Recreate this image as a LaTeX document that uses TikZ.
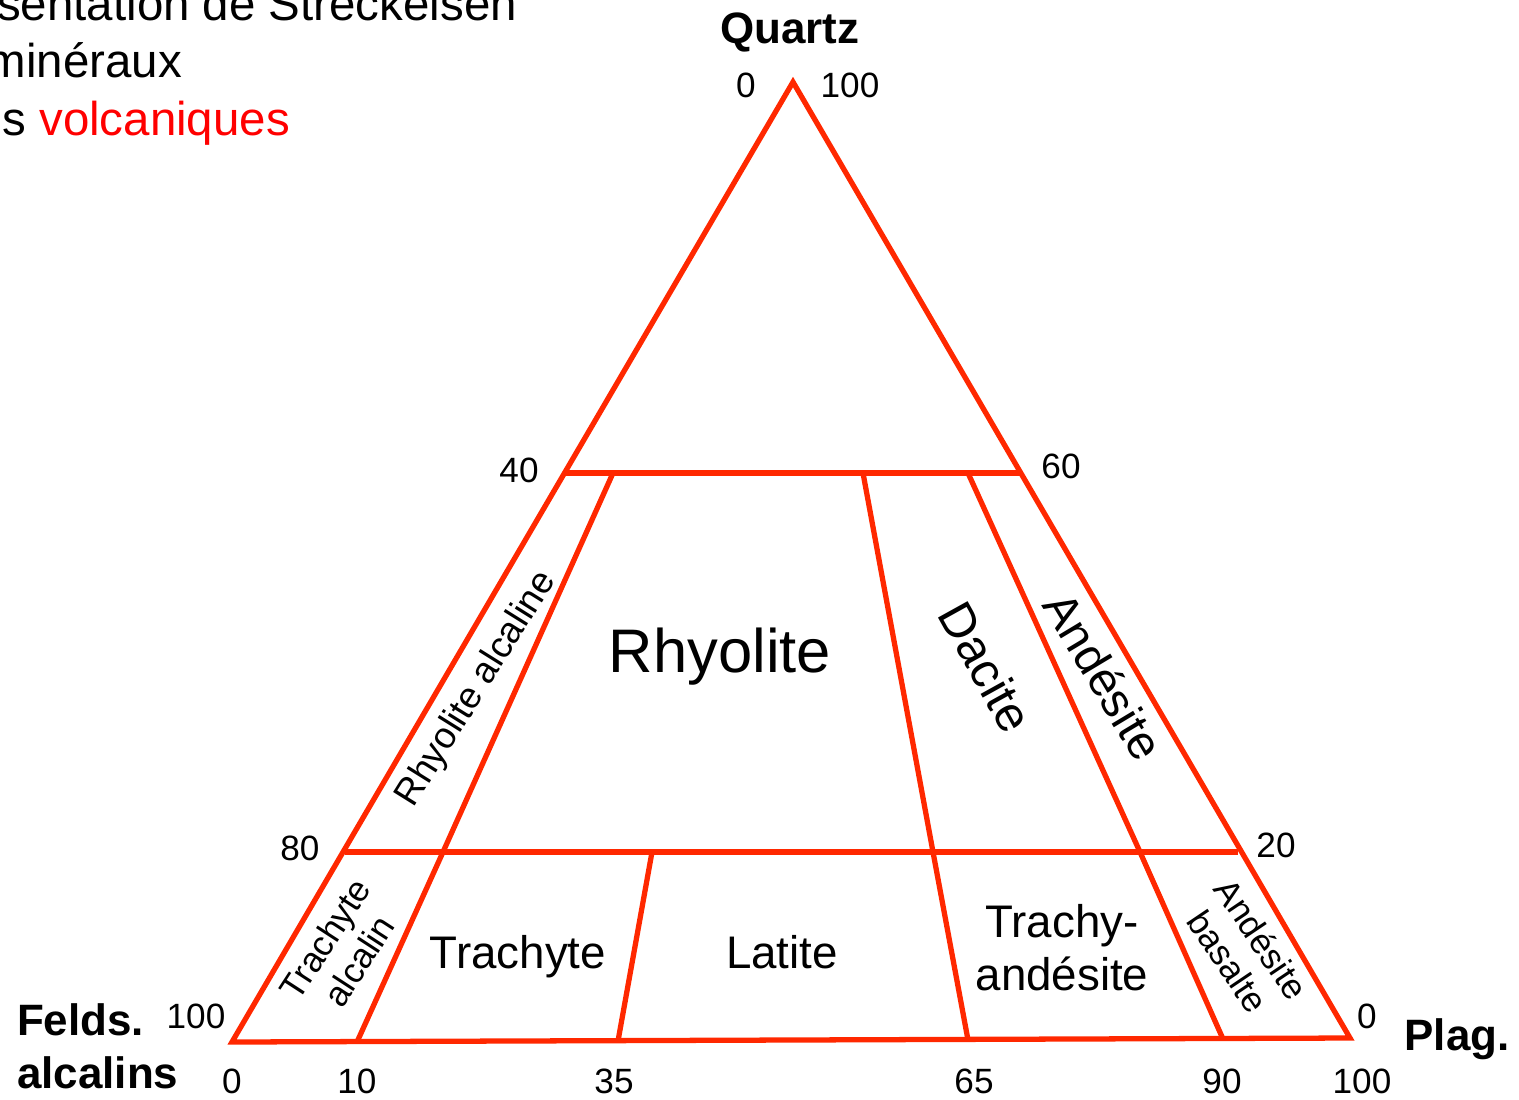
\documentclass[tikz,border=0pt]{standalone}
\usepackage{fontspec}
\setmainfont{Liberation Sans}
\definecolor{linered}{RGB}{255,40,0}
\tikzstyle{every node}+=[inner sep=0.5mm]
\tikzstyle{every path}+=[line width=3pt]
\tikzset{
	rl/.style={draw=linered,line join=miter},
	num/.style={font=\fontsize{20}{24}\selectfont,anchor=base},
	axis/.style={font=\bfseries\fontsize{25}{30}\selectfont,anchor=base},
	rock/.style={font=\fontsize{26}{30}\selectfont,align=center},
	small/.style={font=\fontsize{20}{23}\selectfont,align=center},
	title/.style={font=\fontsize{27}{33}\selectfont,anchor=base east}
}
\newcommand{\drawlines}[2][\empty]{
	\foreach \a/\b in {#2}{
		\draw[#1] (\a) -- (\b);
	}
}
\begin{document}
\begin{tikzpicture}[x=0.2mm,y=-0.2mm]
	\useasboundingbox (0,0) rectangle (1519,1099);
	\coordinate (q) at (793,82);
	\coordinate (a) at (232,1042);
	\coordinate (p) at (1350,1038);
	\coordinate (l40) at (565,473);
	\coordinate (r60) at (1020,473);
	\coordinate (l80) at (345,852);
	\coordinate (r20) at (1238,852);
	\coordinate (t1) at (613,473);
	\coordinate (t2) at (863,473);
	\coordinate (t3) at (968,473);
	\coordinate (m1) at (443,852);
	\coordinate (m2) at (652,852);
	\coordinate (m3) at (933,852);
	\coordinate (m4) at (1140,852);
	\coordinate (b10) at (357,1042);
	\coordinate (b35) at (618,1041);
	\coordinate (b65) at (968,1040);
	\coordinate (b90) at (1223,1039);
	\draw[rl] (a) -- (q) -- (p) -- cycle;
	\drawlines[rl]{l40/r60,l80/r20,t1/m1,m1/b10,m2/b35,t2/m3,m3/b65,t3/m4,m4/b90};
	\node[title] (t1a) at (522,20) {sentation de Streckeisen};
	\node[title] (t1b) at (187,77) {minéraux};
	\node[title] (t1c) at (295,135) {s \textcolor{red}{volcaniques}};
	\node[axis] (qz) at (790,43) {Quartz};
	\node[axis] (pl) at (1457,1050) {Plag.};
	\node[axis,anchor=base west,align=left] (fa) at (12,1088) {Felds.\\alcalins};
	\node[num] (q0) at (746,97) {0};
	\node[num] (q100) at (850,97) {100};
	\node[num] (n40) at (519,482) {40};
	\node[num] (n60) at (1061,478) {60};
	\node[num] (n80) at (300,860) {80};
	\node[num] (n20) at (1276,857) {20};
	\node[num] (f100) at (196,1028) {100};
	\node[num] (p0) at (1367,1028) {0};
	\node[num] (x0) at (232,1093) {0};
	\node[num] (x10) at (357,1093) {10};
	\node[num] (x35) at (614,1093) {35};
	\node[num] (x65) at (974,1093) {65};
	\node[num] (x90) at (1222,1093) {90};
	\node[num] (x100) at (1362,1093) {100};
	\node[font=\fontsize{35}{40}\selectfont,anchor=base] (rhy) at (720,672) {Rhyolite};
	\node[font=\fontsize{21}{25}\selectfont,rotate=58] (rhya) at (477,689) {Rhyolite alcaline};
	\node[font=\fontsize{28}{32}\selectfont,rotate=-61] (dac) at (986,667) {Dacite};
	\node[font=\fontsize{27}{31}\selectfont,rotate=-59] (and) at (1104,676) {Andésite};
	\node[small,rotate=57] (tra) at (342,950) {Trachyte\\alcalin};
	\node[rock,anchor=base] (tr) at (518,968) {Trachyte};
	\node[rock,anchor=base] (lat) at (782,968) {Latite};
	\node[rock,anchor=base] (tand) at (1062,990) {Trachy-\\andésite};
	\node[small,rotate=-56] (anb) at (1245,950) {Andésite\\basalte};
\end{tikzpicture}
\end{document}
